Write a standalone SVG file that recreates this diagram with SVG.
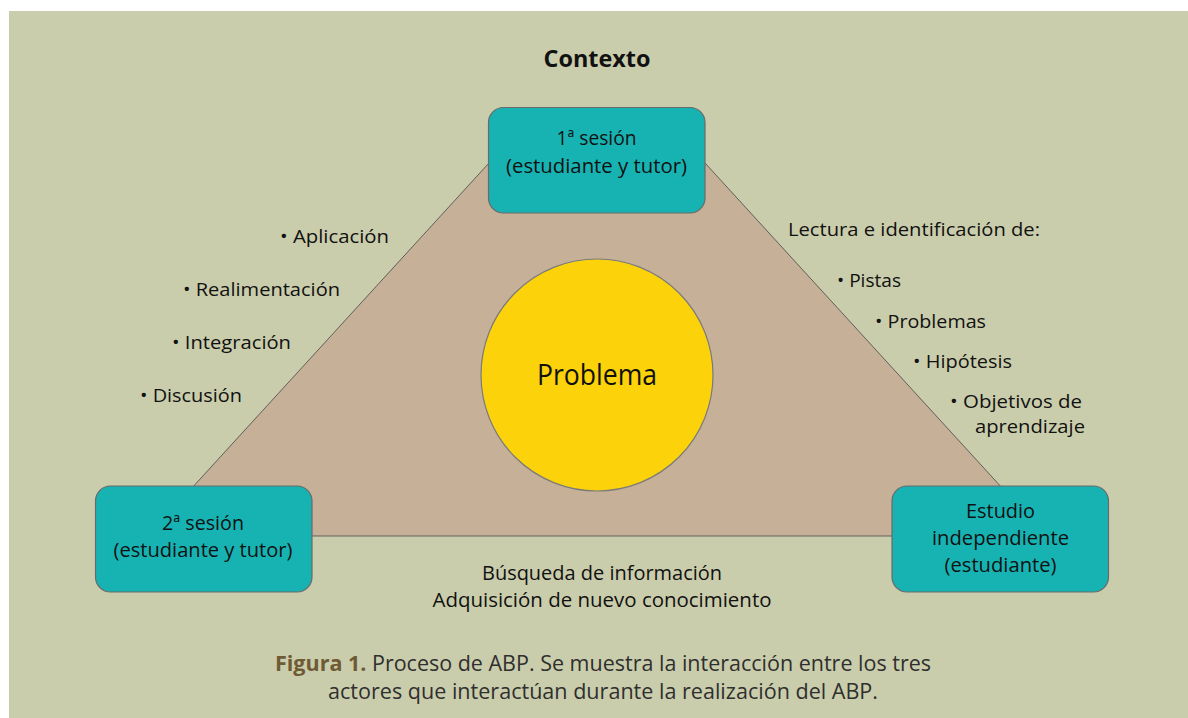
<svg xmlns="http://www.w3.org/2000/svg" width="1188" height="718" viewBox="0 0 1188 718">
<style>
text{font-family:"Open Sans","Noto Sans","Liberation Sans",sans-serif;fill:#111111;}
.box{fill:#17b3b3;stroke:#6a6a6a;stroke-width:1.2;}
.bt{font-size:20px;text-anchor:middle;}
.lb{font-size:19px;}
.bot{font-size:20px;text-anchor:middle;}
.cap{font-size:21px;fill:#2f2f2f;}
.fig{font-weight:bold;fill:#6e5a35;}
</style>
<rect x="0" y="0" width="1188" height="718" fill="#ffffff"/>
<rect x="9" y="11" width="1179" height="707" fill="#cacdab"/>
<text x="597" y="67" font-size="23" font-weight="bold" text-anchor="middle" textLength="107" lengthAdjust="spacingAndGlyphs">Contexto</text>
<g id="connectors">
<polygon points="489,163 705,163 1046,536 148,536" fill="#c6b098" stroke="#555555" stroke-width="0.9"/>
</g>
<g id="problema">
<circle cx="597" cy="375" r="116" fill="#fcd20a" stroke="#7a7a7a" stroke-width="1.2"/>
<text x="597" y="385" font-size="29" text-anchor="middle" textLength="120" lengthAdjust="spacingAndGlyphs">Problema</text>
</g>
<g id="sesion1">
<rect class="box" x="488.5" y="107.5" width="216.5" height="105.5" rx="15"/>
<text class="bt" x="596.5" y="145" textLength="80" lengthAdjust="spacingAndGlyphs">1ª sesión</text>
<text class="bt" x="596.5" y="172.5" textLength="181" lengthAdjust="spacingAndGlyphs">(estudiante y tutor)</text>
</g>
<g id="sesion2">
<rect class="box" x="95.5" y="486" width="216.5" height="106" rx="15"/>
<text class="bt" x="203" y="530" textLength="82" lengthAdjust="spacingAndGlyphs">2ª sesión</text>
<text class="bt" x="203" y="557" textLength="179" lengthAdjust="spacingAndGlyphs">(estudiante y tutor)</text>
</g>
<g id="estudio">
<rect class="box" x="892" y="486" width="216.5" height="106" rx="15"/>
<text class="bt" x="1000.5" y="518" textLength="69" lengthAdjust="spacingAndGlyphs">Estudio</text>
<text class="bt" x="1000.5" y="545" textLength="137" lengthAdjust="spacingAndGlyphs">independiente</text>
<text class="bt" x="1000.5" y="572" textLength="112" lengthAdjust="spacingAndGlyphs">(estudiante)</text>
</g>
<g id="labels-left">
<text class="lb" x="280" y="243" textLength="109" lengthAdjust="spacingAndGlyphs">• Aplicación</text>
<text class="lb" x="183" y="296" textLength="157" lengthAdjust="spacingAndGlyphs">• Realimentación</text>
<text class="lb" x="172" y="349" textLength="119" lengthAdjust="spacingAndGlyphs">• Integración</text>
<text class="lb" x="140" y="402" textLength="102" lengthAdjust="spacingAndGlyphs">• Discusión</text>
</g>
<g id="labels-right">
<text class="lb" x="788" y="236" textLength="252" lengthAdjust="spacingAndGlyphs">Lectura e identificación de:</text>
<text class="lb" x="837" y="287" textLength="64" lengthAdjust="spacingAndGlyphs">• Pistas</text>
<text class="lb" x="875" y="328" textLength="111" lengthAdjust="spacingAndGlyphs">• Problemas</text>
<text class="lb" x="913" y="368" textLength="99" lengthAdjust="spacingAndGlyphs">• Hipótesis</text>
<text class="lb" x="950" y="408" textLength="132" lengthAdjust="spacingAndGlyphs">• Objetivos de</text>
<text class="lb" x="975" y="433" textLength="110" lengthAdjust="spacingAndGlyphs">aprendizaje</text>
</g>
<g id="labels-bottom">
<text class="bot" x="602" y="580" textLength="240" lengthAdjust="spacingAndGlyphs">Búsqueda de información</text>
<text class="bot" x="602" y="607" textLength="339" lengthAdjust="spacingAndGlyphs">Adquisición de nuevo conocimiento</text>
</g>
<g id="caption">
<text class="cap" x="275" y="671" textLength="656" lengthAdjust="spacingAndGlyphs"><tspan class="fig">Figura 1.</tspan> Proceso de ABP. Se muestra la interacción entre los tres</text>
<text class="cap" x="328" y="699" textLength="550" lengthAdjust="spacingAndGlyphs">actores que interactúan durante la realización del ABP.</text>
</g>
</svg>
